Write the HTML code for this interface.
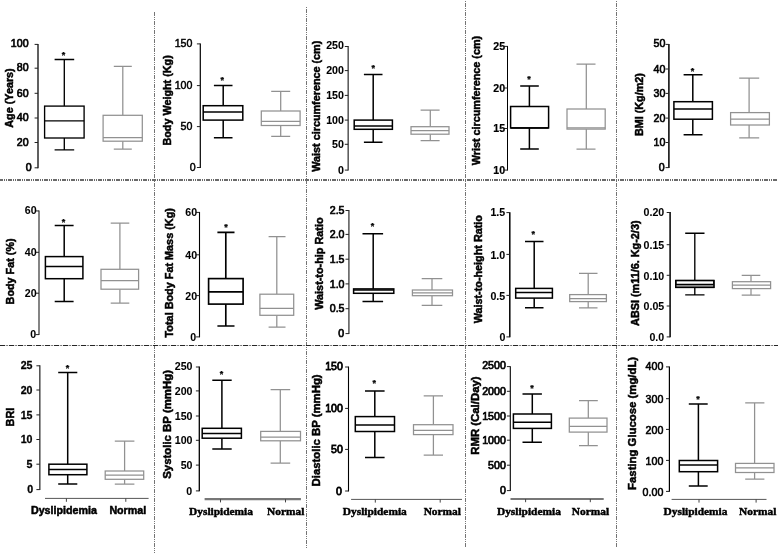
<!DOCTYPE html>
<html><head><meta charset="utf-8"><title>Box plots: Dyslipidemia vs Normal</title>
<style>
html,body{margin:0;padding:0;background:#fff;}
body{width:778px;height:553px;overflow:hidden;}
svg{display:block;will-change:transform;}
text{font-family:"Liberation Sans",sans-serif;fill:#000;}
.t{font-size:11.2px;stroke:#000;}
.yl{font-weight:bold;stroke:#000;stroke-width:0.5px;}
.xs{font-size:10.7px;font-weight:bold;stroke:#000;stroke-width:0.5px;}
.xr{font-family:"Liberation Serif",serif;font-size:11.4px;font-weight:bold;stroke:#000;stroke-width:0.45px;}
.st{font-size:9px;font-weight:bold;stroke:#000;stroke-width:0.25px;}
</style></head><body>
<svg width="778" height="553" viewBox="0 0 778 553">
<rect width="778" height="553" fill="#fff"/>
<g fill="none">
<line x1="154.5" y1="12" x2="154.5" y2="553" stroke="#757575" stroke-width="1" stroke-dasharray="4 1 1 1 1 1" stroke-dashoffset="0" shape-rendering="crispEdges"/>
<line x1="306.5" y1="6" x2="306.5" y2="548" stroke="#757575" stroke-width="1" stroke-dasharray="4 1 1 1 1 1" stroke-dashoffset="6.3" shape-rendering="crispEdges"/>
<line x1="465.5" y1="0" x2="465.5" y2="548" stroke="#757575" stroke-width="1" stroke-dasharray="4 1 1 1 1 1" stroke-dashoffset="6" shape-rendering="crispEdges"/>
<line x1="616.5" y1="0" x2="616.5" y2="547" stroke="#757575" stroke-width="1" stroke-dasharray="4 1 1 1 1 1" stroke-dashoffset="6" shape-rendering="crispEdges"/>
<line x1="0" y1="180" x2="778" y2="180" stroke="#6a6a6a" stroke-width="2" stroke-dasharray="4 1 1 1 1 1" stroke-dashoffset="1" shape-rendering="crispEdges"/>
<line x1="0" y1="345.5" x2="778" y2="345.5" stroke="#0c0c0c" stroke-width="0.9" stroke-dasharray="5 0.85 0.7 0.85 0.7 0.9"/>
</g>
<g>
<path d="M38 43.95V168.25" stroke="#000" stroke-width="1.25" fill="none"/>
<path d="M38 44.4H34.6M38 68.2H34.6M38 93.3H34.6M38 118H34.6M38 142.5H34.6M38 167.8H34.6" stroke="#222" stroke-width="1" fill="none"/>
<text class="t" stroke-width="0.7" text-anchor="end" transform="translate(28.6 46.9) scale(0.95 1)">100</text>
<text class="t" stroke-width="0.7" text-anchor="end" transform="translate(28.6 71.4) scale(0.95 1)">80</text>
<text class="t" stroke-width="0.7" text-anchor="end" transform="translate(28.6 96.5) scale(0.95 1)">60</text>
<text class="t" stroke-width="0.7" text-anchor="end" transform="translate(28.6 121.2) scale(0.95 1)">40</text>
<text class="t" stroke-width="0.7" text-anchor="end" transform="translate(28.6 145.7) scale(0.95 1)">20</text>
<text class="t" stroke-width="0.7" text-anchor="end" transform="translate(31.6 171) scale(0.95 1)">0</text>
<text class="yl" font-size="10.8" text-anchor="middle" transform="translate(13.3 98) rotate(-90)">Age (Years)</text>
<g stroke="#000" stroke-width="1.35" fill="none"><path d="M64.3 59.5V106.1M64.3 138V149.9M54.6 59.5H74.2M54.6 149.9H74.2"/><rect x="44.6" y="106.1" width="39.5" height="31.9" fill="#fff"/><path d="M44.6 120.8H84.1"/></g>
<g stroke="#919191" stroke-width="1.25" fill="none"><path d="M122.8 66.3V115.3M122.8 141.2V149.1M113.8 66.3H131.8M113.8 149.1H131.8"/><rect x="103.1" y="115.3" width="39.2" height="25.9" fill="#fff"/><path d="M103.1 137.6H142.3"/></g>
<text class="st" text-anchor="middle" x="63.5" y="57.7">*</text>
</g>
<g>
<path d="M200.3 43.45V167.95" stroke="#000" stroke-width="1.2" fill="none"/>
<path d="M200.3 43.9H196.9M200.3 85.6H196.9M200.3 126.6H196.9M200.3 167.5H196.9" stroke="#222" stroke-width="1" fill="none"/>
<text class="t" stroke-width="0.5" text-anchor="end" transform="translate(192.4 47.05) scale(0.95 1)">150</text>
<text class="t" stroke-width="0.5" text-anchor="end" transform="translate(192.4 89.45) scale(0.95 1)">100</text>
<text class="t" stroke-width="0.5" text-anchor="end" transform="translate(192.4 130.45) scale(0.95 1)">50</text>
<text class="t" stroke-width="0.5" text-anchor="end" transform="translate(195.6 171.35) scale(0.95 1)">0</text>
<text class="yl" font-size="10.8" text-anchor="middle" transform="translate(170.9 100.4) rotate(-90)">Body Weight (Kg)</text>
<g stroke="#000" stroke-width="1.5" fill="none"><path d="M223.2 85.6V105.7M223.2 120.1V137.8M213.9 85.6H232.5M213.9 137.8H232.5"/><rect x="203.2" y="105.7" width="39.6" height="14.4" fill="#fff"/><path d="M203.2 111.9H242.8"/></g>
<g stroke="#919191" stroke-width="1.25" fill="none"><path d="M280.7 91.3V111M280.7 125.5V136.3M271.2 91.3H290.2M271.2 136.3H290.2"/><rect x="261.3" y="111" width="38.8" height="14.5" fill="#fff"/><path d="M261.3 121.3H300.1"/></g>
<text class="st" text-anchor="middle" x="222.2" y="82.5">*</text>
</g>
<g>
<path d="M348.2 46.05V170.55" stroke="#5e5e5e" stroke-width="1.6" fill="none"/>
<path d="M348.2 46.5H344.8M348.2 70.6H344.8M348.2 95.4H344.8M348.2 120.1H344.8M348.2 144.3H344.8M348.2 170.1H344.8" stroke="#222" stroke-width="1" fill="none"/>
<text class="t" font-weight="bold" stroke-width="0.1" text-anchor="end" transform="translate(343.9 49.45) scale(0.95 1)">250</text>
<text class="t" font-weight="bold" stroke-width="0.1" text-anchor="end" transform="translate(343.9 74.25) scale(0.95 1)">200</text>
<text class="t" font-weight="bold" stroke-width="0.1" text-anchor="end" transform="translate(343.9 99.05) scale(0.95 1)">150</text>
<text class="t" font-weight="bold" stroke-width="0.1" text-anchor="end" transform="translate(343.9 123.75) scale(0.95 1)">100</text>
<text class="t" font-weight="bold" stroke-width="0.1" text-anchor="end" transform="translate(343.9 147.95) scale(0.95 1)">50</text>
<text class="t" font-weight="bold" stroke-width="0.1" text-anchor="end" transform="translate(343.9 173.75) scale(0.95 1)">0</text>
<text class="yl" font-size="10.8" text-anchor="middle" transform="translate(320.3 106.2) rotate(-90)">Waist circumference (cm)</text>
<g stroke="#000" stroke-width="1.5" fill="none"><path d="M373.2 74.5V120.1M373.2 129.3V142.2M363.9 74.5H382.5M363.9 142.2H382.5"/><rect x="354.2" y="120.1" width="38.2" height="9.2" fill="#fff"/><path d="M354.2 125.9H392.4"/></g>
<g stroke="#919191" stroke-width="1.25" fill="none"><path d="M430.3 110.2V126.7M430.3 134.2V140.5M420.6 110.2H439.6M420.6 140.5H439.6"/><rect x="411" y="126.7" width="38" height="7.5" fill="#fff"/><path d="M411 130.5H449"/></g>
<text class="st" text-anchor="middle" x="373.2" y="71.2">*</text>
</g>
<g>
<path d="M507.5 45.95V170.55" stroke="#000" stroke-width="1.05" fill="none"/>
<path d="M507.5 46.4H504.1M507.5 88H504.1M507.5 128.5H504.1M507.5 170.1H504.1" stroke="#222" stroke-width="1" fill="none"/>
<text class="t" font-weight="bold" stroke-width="0.2" text-anchor="end" transform="translate(505.2 49.5) scale(0.95 1)">25</text>
<text class="t" font-weight="bold" stroke-width="0.2" text-anchor="end" transform="translate(505.2 91.8) scale(0.95 1)">20</text>
<text class="t" font-weight="bold" stroke-width="0.2" text-anchor="end" transform="translate(505.2 132.3) scale(0.95 1)">15</text>
<text class="t" font-weight="bold" stroke-width="0.2" text-anchor="end" transform="translate(505.2 173.9) scale(0.95 1)">10</text>
<text class="yl" font-size="10.8" text-anchor="middle" transform="translate(480.2 100.6) rotate(-90)">Wrist circumference (cm)</text>
<g stroke="#000" stroke-width="1.5" fill="none"><path d="M529.4 86V106.5M529.4 127.9V149.1M520.2 86H538.8M520.2 149.1H538.8"/><rect x="510.6" y="106.5" width="38" height="21.4" fill="#fff"/><path d="M510.6 127.9H548.6"/></g>
<g stroke="#919191" stroke-width="1.25" fill="none"><path d="M586.3 64.2V109M586.3 129.1V149.1M576.5 64.2H595.5M576.5 149.1H595.5"/><rect x="567" y="109" width="38.2" height="20.1" fill="#fff"/><path d="M567 127.9H605.2"/></g>
<text class="st" text-anchor="middle" x="529.1" y="82.2">*</text>
</g>
<g>
<path d="M668.9 43.95V168.05" stroke="#000" stroke-width="1.5" fill="none"/>
<path d="M668.9 44.4H665.5M668.9 69H665.5M668.9 93.4H665.5M668.9 118.1H665.5M668.9 142.5H665.5M668.9 167.6H665.5" stroke="#222" stroke-width="1" fill="none"/>
<text class="t" stroke-width="0.65" text-anchor="end" transform="translate(665.4 47.4) scale(0.95 1)">50</text>
<text class="t" stroke-width="0.65" text-anchor="end" transform="translate(665.4 72.7) scale(0.95 1)">40</text>
<text class="t" stroke-width="0.65" text-anchor="end" transform="translate(665.4 97.1) scale(0.95 1)">30</text>
<text class="t" stroke-width="0.65" text-anchor="end" transform="translate(665.4 121.8) scale(0.95 1)">20</text>
<text class="t" stroke-width="0.65" text-anchor="end" transform="translate(665.4 146.2) scale(0.95 1)">10</text>
<text class="t" stroke-width="0.65" text-anchor="end" transform="translate(664.6 171.3) scale(0.95 1)">0</text>
<text class="yl" font-size="10.8" text-anchor="middle" transform="translate(643 104.6) rotate(-90)">BMI (Kg/m2)</text>
<g stroke="#000" stroke-width="1.5" fill="none"><path d="M692.8 74.8V101.7M692.8 119.2V134.8M683.6 74.8H702.5M683.6 134.8H702.5"/><rect x="673.9" y="101.7" width="38.5" height="17.5" fill="#fff"/><path d="M673.9 109H712.4"/></g>
<g stroke="#919191" stroke-width="1.25" fill="none"><path d="M749.1 78.1V112.6M749.1 125V137.8M739.2 78.1H759.2M739.2 137.8H759.2"/><rect x="730.6" y="112.6" width="38.8" height="12.4" fill="#fff"/><path d="M730.6 119.2H769.4"/></g>
<text class="st" text-anchor="middle" x="692.6" y="73.6">*</text>
</g>
<g>
<path d="M39 210.5V335.05" stroke="#666" stroke-width="1.6" fill="none"/>
<path d="M39 210.95H35.6M39 252.3H35.6M39 293.2H35.6M39 334.6H35.6" stroke="#222" stroke-width="1" fill="none"/>
<text class="t" font-weight="bold" stroke-width="0.05" text-anchor="end" transform="translate(36.7 214.1) scale(0.95 1)">60</text>
<text class="t" font-weight="bold" stroke-width="0.05" text-anchor="end" transform="translate(36.7 256.15) scale(0.95 1)">40</text>
<text class="t" font-weight="bold" stroke-width="0.05" text-anchor="end" transform="translate(36.7 297.05) scale(0.95 1)">20</text>
<text class="t" font-weight="bold" stroke-width="0.05" text-anchor="end" transform="translate(36.1 338.45) scale(0.95 1)">0</text>
<text class="yl" font-size="10.8" text-anchor="middle" transform="translate(13.5 271.4) rotate(-90)">Body Fat (%)</text>
<g stroke="#000" stroke-width="1.5" fill="none"><path d="M64.2 225.6V256.6M64.2 278.7V301.6M54.7 225.6H73.6M54.7 301.6H73.6"/><rect x="45.4" y="256.6" width="37.5" height="22.1" fill="#fff"/><path d="M45.4 266.5H82.9"/></g>
<g stroke="#919191" stroke-width="1.25" fill="none"><path d="M119.9 223V269.3M119.9 289.2V303.2M110.7 223H129.3M110.7 303.2H129.3"/><rect x="101" y="269.3" width="37.6" height="19.9" fill="#fff"/><path d="M101 280.5H138.6"/></g>
<text class="st" text-anchor="middle" x="63.5" y="224.5">*</text>
</g>
<g>
<path d="M199.5 211.95V337.35" stroke="#000" stroke-width="1.1" fill="none"/>
<path d="M199.5 212.4H196.1M199.5 254.8H196.1M199.5 295.6H196.1M199.5 336.9H196.1" stroke="#222" stroke-width="1" fill="none"/>
<text class="t" font-weight="bold" stroke-width="0.05" text-anchor="end" transform="translate(197.2 216) scale(0.95 1)">60</text>
<text class="t" font-weight="bold" stroke-width="0.05" text-anchor="end" transform="translate(197.2 259.1) scale(0.95 1)">40</text>
<text class="t" font-weight="bold" stroke-width="0.05" text-anchor="end" transform="translate(197.2 299.9) scale(0.95 1)">20</text>
<text class="t" font-weight="bold" stroke-width="0.05" text-anchor="end" transform="translate(196.2 341.2) scale(0.95 1)">0</text>
<text class="yl" font-size="10.85" text-anchor="middle" transform="translate(173.1 272.8) rotate(-90)">Total Body Fat Mass (Kg)</text>
<g stroke="#000" stroke-width="1.65" fill="none"><path d="M225.8 232.3V278.6M225.8 304.1V326M217.4 232.3H234.5M217.4 326H234.5"/><rect x="208.6" y="278.6" width="34.5" height="25.5" fill="#fff"/><path d="M208.6 291.9H243.1"/></g>
<g stroke="#919191" stroke-width="1.25" fill="none"><path d="M276.8 236.7V294.2M276.8 315.3V327M268.6 236.7H285.5M268.6 327H285.5"/><rect x="259.9" y="294.2" width="33.8" height="21.1" fill="#fff"/><path d="M259.9 308.4H293.7"/></g>
<text class="st" text-anchor="middle" x="225.9" y="230.3">*</text>
</g>
<g>
<path d="M348.9 210.05V334.05" stroke="#555" stroke-width="1.5" fill="none"/>
<path d="M348.9 210.5H345.5M348.9 234.4H345.5M348.9 259.2H345.5M348.9 283.9H345.5M348.9 308.7H345.5M348.9 333.6H345.5" stroke="#222" stroke-width="1" fill="none"/>
<text class="t" stroke-width="0.7" text-anchor="end" transform="translate(344.5 213.5) scale(0.95 1)">2.5</text>
<text class="t" stroke-width="0.7" text-anchor="end" transform="translate(344.5 238.1) scale(0.95 1)">2.0</text>
<text class="t" stroke-width="0.7" text-anchor="end" transform="translate(344.5 262.9) scale(0.95 1)">1.5</text>
<text class="t" stroke-width="0.7" text-anchor="end" transform="translate(344.5 287.6) scale(0.95 1)">1.0</text>
<text class="t" stroke-width="0.7" text-anchor="end" transform="translate(344.5 312.4) scale(0.95 1)">0.5</text>
<text class="t" stroke-width="0.7" text-anchor="end" transform="translate(344.2 337.3) scale(0.95 1)">0</text>
<text class="yl" font-size="10.85" text-anchor="middle" transform="translate(322.6 263.6) rotate(-90)">Waist-to-hip Ratio</text>
<g stroke="#000" stroke-width="1.5" fill="none"><path d="M373.2 233.7V288.9M373.2 293.3V301.6M362.5 233.7H383.1M362.5 301.6H383.1"/><rect x="353.6" y="288.9" width="40.2" height="4.4" fill="#fff"/><path d="M353.6 290H393.8"/></g>
<g stroke="#919191" stroke-width="1.25" fill="none"><path d="M432 278.7V290M432 295.7V305.4M421.7 278.7H442.3M421.7 305.4H442.3"/><rect x="412.4" y="290" width="40.1" height="5.7" fill="#fff"/><path d="M412.4 292.8H452.5"/></g>
<text class="st" text-anchor="middle" x="372.6" y="229.1">*</text>
</g>
<g>
<path d="M509.8 212.15V337.35" stroke="#000" stroke-width="1.5" fill="none"/>
<path d="M509.8 212.6H506.4M509.8 254.4H506.4M509.8 295.4H506.4M509.8 336.9H506.4" stroke="#222" stroke-width="1" fill="none"/>
<text class="t" font-weight="bold" stroke-width="0.1" text-anchor="end" transform="translate(505.2 216) scale(0.95 1)">1.5</text>
<text class="t" font-weight="bold" stroke-width="0.1" text-anchor="end" transform="translate(505.2 258.5) scale(0.95 1)">1.0</text>
<text class="t" font-weight="bold" stroke-width="0.1" text-anchor="end" transform="translate(505.2 299.5) scale(0.95 1)">0.5</text>
<text class="t" font-weight="bold" stroke-width="0.1" text-anchor="end" transform="translate(505.5 341) scale(0.95 1)">0</text>
<text class="yl" font-size="10.8" text-anchor="middle" transform="translate(482 269.2) rotate(-90)">Waist-to-height Ratio</text>
<g stroke="#000" stroke-width="1.5" fill="none"><path d="M534.2 241.4V288.4M534.2 298.1V307.8M525 241.4H543.5M525 307.8H543.5"/><rect x="515.7" y="288.4" width="36.7" height="9.7" fill="#fff"/><path d="M515.7 292.4H552.4"/></g>
<g stroke="#919191" stroke-width="1.25" fill="none"><path d="M588.2 273.3V294.6M588.2 301.6V307.8M579 273.3H597.5M579 307.8H597.5"/><rect x="569.7" y="294.6" width="36.7" height="7" fill="#fff"/><path d="M569.7 298.6H606.4"/></g>
<text class="st" text-anchor="middle" x="533.2" y="237.2">*</text>
</g>
<g>
<path d="M670.1 212.05V337.35" stroke="#000" stroke-width="1.5" fill="none"/>
<path d="M670.1 212.5H666.7M670.1 244.7H666.7M670.1 275.3H666.7M670.1 306H666.7M670.1 336.9H666.7" stroke="#222" stroke-width="1" fill="none"/>
<text class="t" font-weight="bold" stroke-width="0.05" text-anchor="end" transform="translate(664.2 216.1) scale(0.95 1)">0.20</text>
<text class="t" font-weight="bold" stroke-width="0.05" text-anchor="end" transform="translate(664.2 249) scale(0.95 1)">0.15</text>
<text class="t" font-weight="bold" stroke-width="0.05" text-anchor="end" transform="translate(664.2 279.6) scale(0.95 1)">0.10</text>
<text class="t" font-weight="bold" stroke-width="0.05" text-anchor="end" transform="translate(664.2 310.3) scale(0.95 1)">0.05</text>
<text class="t" font-weight="bold" stroke-width="0.05" text-anchor="end" transform="translate(664.2 341.2) scale(0.95 1)">0.0</text>
<text class="yl" font-size="10.85" text-anchor="middle" transform="translate(639.3 273.2) rotate(-90)">ABSI (m11/6. Kg-2/3)</text>
<g stroke="#000" stroke-width="1.35" fill="none"><path d="M694.8 233.2V280.5M694.8 287.4V294.8M685.2 233.2H704.5M685.2 294.8H704.5"/><rect x="675.8" y="280.5" width="38.1" height="6.9" fill="#fff"/><rect x="675.8" y="284.4" width="38.1" height="3" fill="#8c8c8c" stroke="none"/><rect x="675.8" y="280.5" width="38.1" height="6.9"/><path d="M675.8 284.4H713.9"/></g>
<g stroke="#919191" stroke-width="1.25" fill="none"><path d="M751 275.4V281.7M751 288.6V295.2M741.7 275.4H760.3M741.7 295.2H760.3"/><rect x="732.4" y="281.7" width="38.2" height="6.9" fill="#fff"/><path d="M732.4 285.2H770.6"/></g>
</g>
<g>
<path d="M39.8 365.35V490.05" stroke="#555" stroke-width="1.6" fill="none"/>
<path d="M39.8 365.8H36.4M39.8 390H36.4M39.8 414.9H36.4M39.8 439.5H36.4M39.8 464.2H36.4M39.8 489.6H36.4" stroke="#222" stroke-width="1" fill="none"/>
<text class="t" font-weight="bold" stroke-width="0.3" text-anchor="end" transform="translate(32.5 368.9) scale(0.95 1)">25</text>
<text class="t" font-weight="bold" stroke-width="0.3" text-anchor="end" transform="translate(32.5 393.8) scale(0.95 1)">20</text>
<text class="t" font-weight="bold" stroke-width="0.3" text-anchor="end" transform="translate(32.5 418.7) scale(0.95 1)">15</text>
<text class="t" font-weight="bold" stroke-width="0.3" text-anchor="end" transform="translate(32.5 443.3) scale(0.95 1)">10</text>
<text class="t" font-weight="bold" stroke-width="0.3" text-anchor="end" transform="translate(32.5 468) scale(0.95 1)">5</text>
<text class="t" font-weight="bold" stroke-width="0.3" text-anchor="end" transform="translate(33.2 493.4) scale(0.95 1)">0</text>
<text class="yl" font-size="10.8" text-anchor="middle" transform="translate(13.7 417.1) rotate(-90)">BRI</text>
<g stroke="#000" stroke-width="1.5" fill="none"><path d="M67.7 372.6V464.2M67.7 474.7V484M58.2 372.6H77.3M58.2 484H77.3"/><rect x="48.9" y="464.2" width="38" height="10.5" fill="#fff"/><path d="M48.9 469.6H86.9"/></g>
<g stroke="#919191" stroke-width="1.25" fill="none"><path d="M124.6 441V471M124.6 479.3V484M114.8 441H134.4M114.8 484H134.4"/><rect x="105.2" y="471" width="38.5" height="8.3" fill="#fff"/><path d="M105.2 475.2H143.7"/></g>
<text class="st" text-anchor="middle" x="67.4" y="371.2">*</text>
<path d="M45 498.4H148.6" stroke="#555" stroke-width="1" fill="none"/>
<path d="M66.4 498.4V501.8M125.8 498.4V501.8" stroke="#444" stroke-width="1" fill="none"/>
<text class="xs" text-anchor="middle" x="63.9" y="514.3">Dyslipidemia</text>
<text class="xs" text-anchor="middle" x="127.8" y="514.3">Normal</text>
</g>
<g>
<path d="M199.3 366.55V491.35" stroke="#000" stroke-width="1.3" fill="none"/>
<path d="M199.3 367H195.9M199.3 390.9H195.9M199.3 416H195.9M199.3 440.3H195.9M199.3 465.1H195.9M199.3 490.9H195.9" stroke="#222" stroke-width="1" fill="none"/>
<text class="t" font-weight="bold" stroke-width="0.05" text-anchor="end" transform="translate(192.5 370.2) scale(0.95 1)">250</text>
<text class="t" font-weight="bold" stroke-width="0.05" text-anchor="end" transform="translate(192.5 394.8) scale(0.95 1)">200</text>
<text class="t" font-weight="bold" stroke-width="0.05" text-anchor="end" transform="translate(192.5 419.9) scale(0.95 1)">150</text>
<text class="t" font-weight="bold" stroke-width="0.05" text-anchor="end" transform="translate(192.5 444.2) scale(0.95 1)">100</text>
<text class="t" font-weight="bold" stroke-width="0.05" text-anchor="end" transform="translate(192.5 469) scale(0.95 1)">50</text>
<text class="t" font-weight="bold" stroke-width="0.05" text-anchor="end" transform="translate(192.1 494.8) scale(0.95 1)">0</text>
<text class="yl" font-size="11.4" text-anchor="middle" transform="translate(171 424.4) rotate(-90)">Systolic BP (mmHg)</text>
<g stroke="#000" stroke-width="1.5" fill="none"><path d="M221.9 380.2V428.3M221.9 438.2V449M212.3 380.2H231.7M212.3 449H231.7"/><rect x="202.2" y="428.3" width="39.2" height="9.9" fill="#fff"/><path d="M202.2 433.5H241.4"/></g>
<g stroke="#919191" stroke-width="1.25" fill="none"><path d="M280.3 389.7V431.4M280.3 440.8V463M270.6 389.7H290.2M270.6 463H290.2"/><rect x="260.7" y="431.4" width="39.8" height="9.4" fill="#fff"/><path d="M260.7 437.1H300.5"/></g>
<text class="st" text-anchor="middle" x="221.6" y="377">*</text>
<path d="M204.6 499.2H300.9" stroke="#777" stroke-width="2.2" fill="none"/>
<path d="M220.5 499.2V502.4M285.5 499.2V502.4" stroke="#444" stroke-width="1" fill="none"/>
<text class="xr" text-anchor="middle" x="221" y="514.6">Dyslipidemia</text>
<text class="xr" text-anchor="middle" x="285.7" y="514.6">Normal</text>
</g>
<g>
<path d="M348.5 366.55V491.45" stroke="#000" stroke-width="1.1" fill="none"/>
<path d="M348.5 367H345.1M348.5 408.4H345.1M348.5 449.4H345.1M348.5 491H345.1" stroke="#222" stroke-width="1" fill="none"/>
<text class="t" stroke-width="0.8" text-anchor="end" transform="translate(342.9 370.3) scale(0.95 1)">150</text>
<text class="t" stroke-width="0.8" text-anchor="end" transform="translate(342.9 412.4) scale(0.95 1)">100</text>
<text class="t" stroke-width="0.8" text-anchor="end" transform="translate(342.9 453.4) scale(0.95 1)">50</text>
<text class="t" stroke-width="0.8" text-anchor="end" transform="translate(341.9 495) scale(0.95 1)">0</text>
<text class="yl" font-size="11.35" text-anchor="middle" transform="translate(320.1 430.4) rotate(-90)">Diastolic BP (mmHg)</text>
<g stroke="#000" stroke-width="1.5" fill="none"><path d="M374.8 391.1V416.6M374.8 431.5V457.5M365 391.1H384.6M365 457.5H384.6"/><rect x="355.3" y="416.6" width="39.2" height="14.9" fill="#fff"/><path d="M355.3 424.9H394.5"/></g>
<g stroke="#919191" stroke-width="1.25" fill="none"><path d="M433.4 395.8V424.7M433.4 434.6V455.2M423.7 395.8H443M423.7 455.2H443"/><rect x="413.5" y="424.7" width="39.5" height="9.9" fill="#fff"/><path d="M413.5 430.4H453"/></g>
<text class="st" text-anchor="middle" x="374.3" y="386.2">*</text>
<path d="M351.1 499.4H462" stroke="#555" stroke-width="1" fill="none"/>
<path d="M375.3 499.4V502.6M440.2 499.4V502.6" stroke="#444" stroke-width="1" fill="none"/>
<text class="xr" text-anchor="middle" x="374.8" y="514.6">Dyslipidemia</text>
<text class="xr" text-anchor="middle" x="442.3" y="514.6">Normal</text>
</g>
<g>
<path d="M510.3 366.15V491.05" stroke="#000" stroke-width="1.1" fill="none"/>
<path d="M510.3 366.6H506.9M510.3 391.3H506.9M510.3 416H506.9M510.3 440.2H506.9M510.3 465.2H506.9M510.3 490.6H506.9" stroke="#222" stroke-width="1" fill="none"/>
<text class="t" stroke-width="0.7" text-anchor="end" transform="translate(505.8 369.4) scale(0.95 1)">2500</text>
<text class="t" stroke-width="0.7" text-anchor="end" transform="translate(505.8 394.8) scale(0.95 1)">2000</text>
<text class="t" stroke-width="0.7" text-anchor="end" transform="translate(505.8 419.5) scale(0.95 1)">1500</text>
<text class="t" stroke-width="0.7" text-anchor="end" transform="translate(505.8 443.7) scale(0.95 1)">1000</text>
<text class="t" stroke-width="0.7" text-anchor="end" transform="translate(505.8 468.7) scale(0.95 1)">500</text>
<text class="t" stroke-width="0.7" text-anchor="end" transform="translate(505.8 494.1) scale(0.95 1)">0</text>
<text class="yl" font-size="11.4" text-anchor="middle" transform="translate(479 415.6) rotate(-90)">RMR (Cal/Day)</text>
<g stroke="#000" stroke-width="1.5" fill="none"><path d="M532.3 393.9V414M532.3 428.4V442.2M522.5 393.9H541.9M522.5 442.2H541.9"/><rect x="513.4" y="414" width="38" height="14.4" fill="#fff"/><path d="M513.4 422.2H551.4"/></g>
<g stroke="#919191" stroke-width="1.25" fill="none"><path d="M588.3 400.6V418.1M588.3 432.1V445.7M579 400.6H597.8M579 445.7H597.8"/><rect x="569.3" y="418.1" width="37.7" height="14" fill="#fff"/><path d="M569.3 426.3H607"/></g>
<text class="st" text-anchor="middle" x="532.1" y="390.6">*</text>
<path d="M510.5 499H603.7" stroke="#777" stroke-width="2.2" fill="none"/>
<path d="M525.6 499V502.2M590.3 499V502.2" stroke="#444" stroke-width="1" fill="none"/>
<text class="xr" text-anchor="middle" x="528.9" y="514.6">Dyslipidemia</text>
<text class="xr" text-anchor="middle" x="590.4" y="514.6">Normal</text>
</g>
<g>
<path d="M669.4 366.45V491.85" stroke="#000" stroke-width="1.2" fill="none"/>
<path d="M669.4 366.9H666M669.4 398.7H666M669.4 429.4H666M669.4 460.4H666M669.4 491.4H666" stroke="#222" stroke-width="1" fill="none"/>
<text class="t" stroke-width="0.6" text-anchor="end" transform="translate(663.3 370.4) scale(0.95 1)">400</text>
<text class="t" stroke-width="0.6" text-anchor="end" transform="translate(663.3 402.9) scale(0.95 1)">300</text>
<text class="t" stroke-width="0.6" text-anchor="end" transform="translate(663.3 433.6) scale(0.95 1)">200</text>
<text class="t" stroke-width="0.6" text-anchor="end" transform="translate(663.3 464.6) scale(0.95 1)">100</text>
<text class="t" stroke-width="0.6" text-anchor="end" transform="translate(663.3 495.6) scale(0.95 1)">0.00</text>
<text class="yl" font-size="11.35" text-anchor="middle" transform="translate(635.9 423.4) rotate(-90)">Fasting Glucose (mg/dL)</text>
<g stroke="#000" stroke-width="1.5" fill="none"><path d="M698.4 403.9V460.5M698.4 471.7V486M688.8 403.9H707.7M688.8 486H707.7"/><rect x="679.3" y="460.5" width="38.3" height="11.2" fill="#fff"/><path d="M679.3 465H717.6"/></g>
<g stroke="#919191" stroke-width="1.25" fill="none"><path d="M754.6 402.8V463.4M754.6 472.5V479M745.2 402.8H764.4M745.2 479H764.4"/><rect x="735.5" y="463.4" width="38.5" height="9.1" fill="#fff"/><path d="M735.5 467.9H774"/></g>
<text class="st" text-anchor="middle" x="698" y="402">*</text>
<path d="M671.6 499.4H766.5" stroke="#555" stroke-width="1" fill="none"/>
<path d="M699 499.4V502.6M756.1 499.4V502.6" stroke="#444" stroke-width="1" fill="none"/>
<text class="xr" text-anchor="middle" x="695.5" y="514.6">Dyslipidemia</text>
<text class="xr" text-anchor="middle" x="757.7" y="514.6">Normal</text>
</g>
</svg>
</body></html>
